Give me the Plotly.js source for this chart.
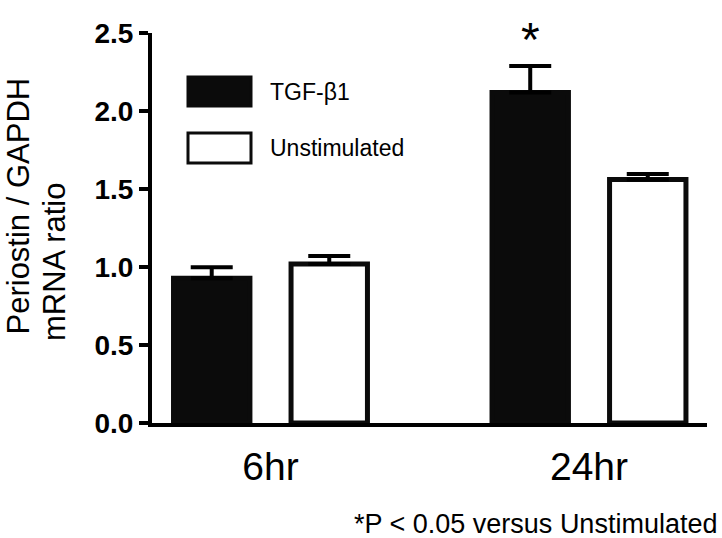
<!DOCTYPE html>
<html>
<head>
<meta charset="utf-8">
<script src="https://cdn.plot.ly/plotly-3.0.1.min.js"></script>
<style>
  body { margin: 0; background: #fff; }
  #chart { width: 722px; height: 538px; }
</style>
</head>
<body>
<div id="chart"></div>
<script>
// data
let groups = ['6hr', '24hr']
let tgf = [0.928, 2.119]
let tgfErr = [0.070, 0.169]
let unstim = [1.019, 1.561]
let unstimErr = [0.052, 0.035]
let seriesNames = ['TGF-β1', 'Unstimulated']
let footnote = '*P < 0.05 versus Unstimulated'

// plot box in pixels
let L = 152, T = 33, W = 555, H = 390
let px = function(x) { return (x - L) / W }
let py = function(y) { return 1 - (y - T) / H }

let font = '"Liberation Sans", Arial, sans-serif'
let xrange = [-0.372, 1.3705]
let barStep = 0.369 / 2   // half distance between bars in a group

let errStyle = function(arr) {
  return {type: 'data', symmetric: false, array: arr, arrayminus: arr.map(() => 0),
          color: '#000', thickness: 4, width: 21}
}

let traces = [
  {
    type: 'bar', name: seriesNames[0], x: groups, y: tgf,
    marker: {color: '#0b0b0b', line: {color: '#0b0b0b', width: 5}},
    error_y: errStyle(tgfErr)
  },
  {
    type: 'bar', name: seriesNames[1], x: groups, y: unstim,
    marker: {color: '#ffffff', line: {color: '#0b0b0b', width: 5}},
    error_y: errStyle(unstimErr)
  }
]

// ticks sit under each bar, labels under each group
let barTicks = []
groups.forEach(function(g, i) { barTicks.push(i - barStep, i + barStep) })

let layout = {
  width: 722, height: 538,
  margin: {l: L, r: 722 - L - W, t: T, b: 538 - T - H},
  paper_bgcolor: '#fff', plot_bgcolor: '#fff',
  showlegend: false,
  barmode: 'group', bargap: 0.262, bargroupgap: 0.35,
  font: {family: font, color: '#000'},
  xaxis: {
    type: 'category', range: xrange, showgrid: false, zeroline: false,
    showline: true, linewidth: 4, linecolor: '#000',
    ticks: '', ticklabelstandoff: 6,
    tickfont: {size: 39, family: font}
  },
  xaxis2: {
    overlaying: 'x', anchor: 'y', type: 'linear', range: xrange,
    showgrid: false, zeroline: false, showline: false, showticklabels: false,
    tickmode: 'array', tickvals: barTicks,
    ticks: 'outside', ticklen: 13, tickwidth: 4, tickcolor: '#000'
  },
  yaxis: {
    range: [0, 2.5], tickvals: [0, 0.5, 1, 1.5, 2, 2.5],
    ticktext: ['0.0', '0.5', '1.0', '1.5', '2.0', '2.5'],
    showgrid: false, zeroline: false,
    showline: true, linewidth: 4, linecolor: '#000',
    ticks: 'outside', ticklen: 9, tickwidth: 4, tickcolor: '#000',
    tickfont: {size: 28, family: font, weight: 'bold'}
  },
  shapes: [
    {type: 'rect', xref: 'paper', yref: 'paper', x0: px(188), x1: px(251), y0: py(77), y1: py(106),
     fillcolor: '#0b0b0b', line: {color: '#0b0b0b', width: 3}},
    {type: 'rect', xref: 'paper', yref: 'paper', x0: px(188), x1: px(251), y0: py(133), y1: py(163),
     fillcolor: '#fff', line: {color: '#0b0b0b', width: 3}}
  ],
  annotations: [
    {xref: 'paper', yref: 'paper', x: px(268), y: py(92), xanchor: 'left', yanchor: 'middle',
     text: seriesNames[0], showarrow: false, font: {size: 23, family: font}},
    {xref: 'paper', yref: 'paper', x: px(268), y: py(148), xanchor: 'left', yanchor: 'middle',
     text: seriesNames[1], showarrow: false, font: {size: 23, family: font}},
    {xref: 'x', yref: 'y', x: 1 - barStep, y: tgf[1] + tgfErr[1], xanchor: 'center', yanchor: 'bottom',
     yshift: -2, text: '*', showarrow: false, font: {size: 48, family: font}},
    {xref: 'paper', yref: 'paper', x: px(18), y: py(337), xanchor: 'center', yanchor: 'bottom',
     textangle: -90, text: 'Periostin / GAPDH', showarrow: false, font: {size: 31, family: font}},
    {xref: 'paper', yref: 'paper', x: px(54), y: py(343), xanchor: 'center', yanchor: 'bottom',
     textangle: -90, text: 'mRNA ratio', showarrow: false, font: {size: 31, family: font}},
    {xref: 'paper', yref: 'paper', x: px(719), y: py(524), xanchor: 'right', yanchor: 'middle',
     text: footnote, showarrow: false, font: {size: 27, family: font}}
  ]
}

Plotly.newPlot('chart', traces, layout, {displayModeBar: false, staticPlot: true})
</script>
</body>
</html>
